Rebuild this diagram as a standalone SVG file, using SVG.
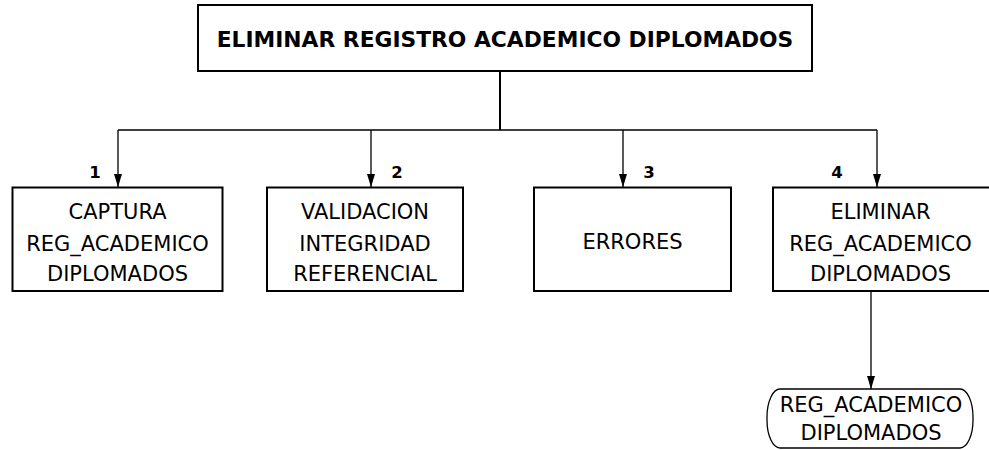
<svg xmlns="http://www.w3.org/2000/svg" width="989" height="450" viewBox="0 0 989 450">
<defs>
<marker id="arr" viewBox="0 0 13 8" refX="13" refY="4" markerWidth="13" markerHeight="8" markerUnits="userSpaceOnUse" orient="auto">
<path d="M0,0 L13,4 L0,8 z" fill="#000"/>
</marker>
</defs>
<style>
.box{fill:#fff;stroke:#000;stroke-width:2}
.t{font-family:"DejaVu Sans",sans-serif;font-size:21px;fill:#000;text-anchor:middle}
.title{font-family:"DejaVu Sans",sans-serif;font-weight:bold;font-size:21.8px;fill:#000;text-anchor:middle}
.num{font-family:"DejaVu Sans",sans-serif;font-weight:bold;font-size:16.5px;fill:#000;text-anchor:middle}
.c{fill:none;stroke:#000;stroke-width:1.3}
</style>
<rect width="989" height="450" fill="#fff"/>
<g id="connectors">
<line class="c" x1="500" y1="71" x2="500" y2="130" style="stroke-width:2"/>
<line class="c" x1="118" y1="130" x2="877" y2="130"/>
<line class="c" x1="118" y1="130" x2="118" y2="187" marker-end="url(#arr)"/>
<line class="c" x1="371" y1="130" x2="371" y2="187" marker-end="url(#arr)"/>
<line class="c" x1="623" y1="130" x2="623" y2="187" marker-end="url(#arr)"/>
<line class="c" x1="877" y1="130" x2="877" y2="187" marker-end="url(#arr)"/>
<line class="c" x1="871" y1="292" x2="871" y2="389" marker-end="url(#arr)"/>
</g>
<g id="root">
<rect class="box" x="198" y="5" width="614" height="66"/>
<text class="title" x="505" y="47">ELIMINAR REGISTRO ACADEMICO DIPLOMADOS</text>
</g>
<g id="node1">
<rect class="box" x="12.5" y="187.5" width="210" height="103.5"/>
<text class="num" x="95" y="178">1</text>
<text class="t" x="117.5" y="219">CAPTURA</text>
<text class="t" x="117.5" y="250.5">REG_ACADEMICO</text>
<text class="t" x="117.5" y="281">DIPLOMADOS</text>
</g>
<g id="node2">
<rect class="box" x="267" y="187.5" width="196" height="103.5"/>
<text class="num" x="397" y="178">2</text>
<text class="t" x="365" y="219">VALIDACION</text>
<text class="t" x="365" y="250.5">INTEGRIDAD</text>
<text class="t" x="365" y="281">REFERENCIAL</text>
</g>
<g id="node3">
<rect class="box" x="534" y="187.5" width="197" height="103.5"/>
<text class="num" x="649" y="178">3</text>
<text class="t" x="632.5" y="249">ERRORES</text>
</g>
<g id="node4">
<rect class="box" x="773" y="187.5" width="220" height="103.5"/>
<text class="num" x="837" y="178">4</text>
<text class="t" x="880.5" y="219">ELIMINAR</text>
<text class="t" x="880.5" y="250.5">REG_ACADEMICO</text>
<text class="t" x="880.5" y="281">DIPLOMADOS</text>
</g>
<g id="store">
<rect class="box" x="767" y="389" width="206" height="59" rx="13" ry="28" style="stroke-width:1.3"/>
<text class="t" x="871" y="412">REG_ACADEMICO</text>
<text class="t" x="871" y="440">DIPLOMADOS</text>
</g>
</svg>
